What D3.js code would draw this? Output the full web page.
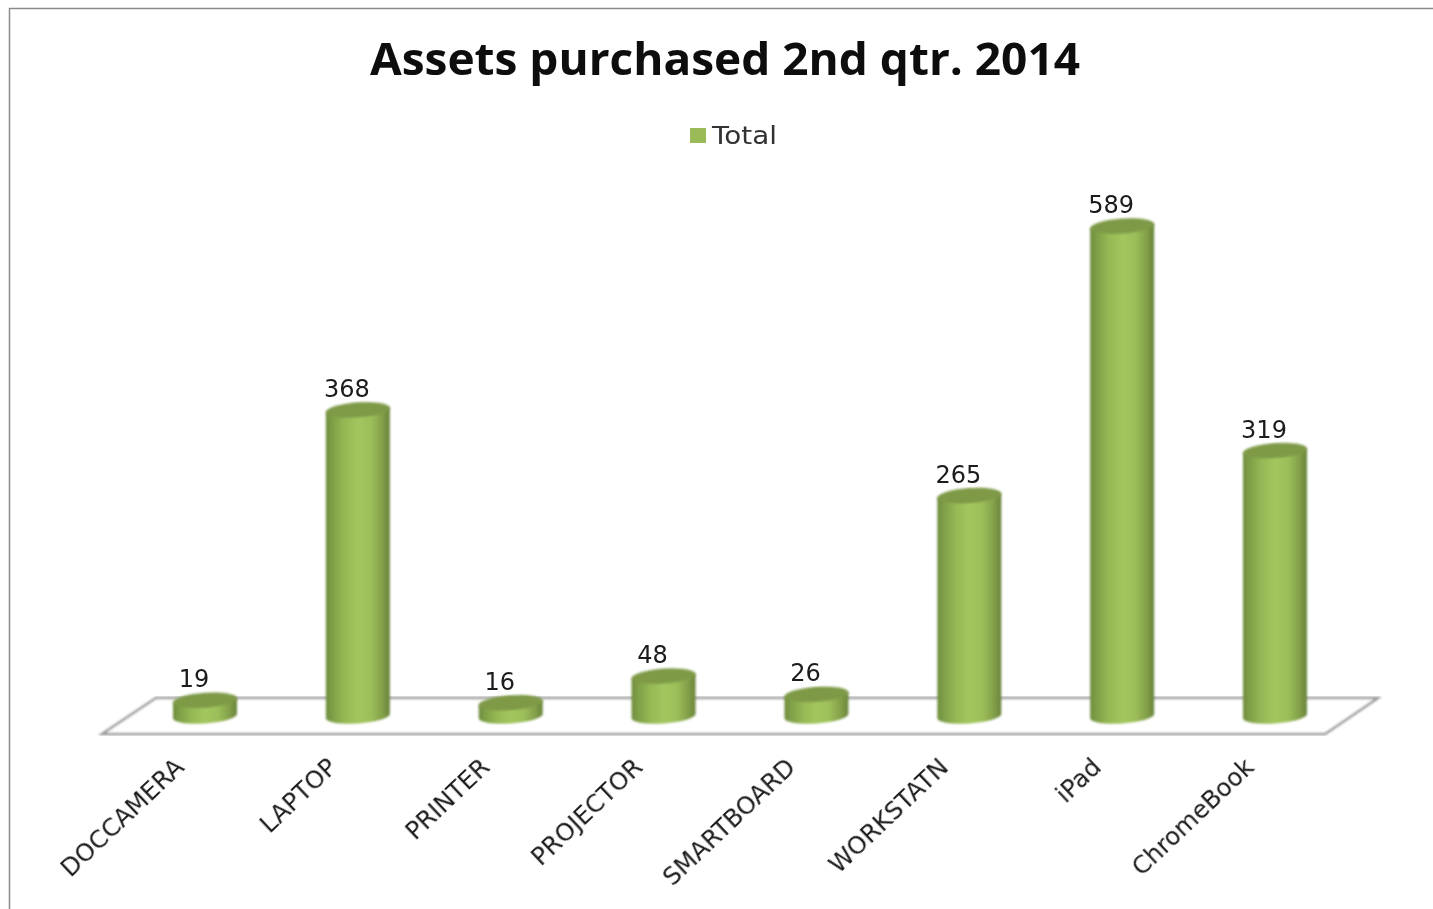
<!DOCTYPE html>
<html><head><meta charset="utf-8">
<script src="https://cdn.jsdelivr.net/npm/d3@7"></script>
<style>html,body{margin:0;padding:0;background:#fff;overflow:hidden}svg{display:block}</style>
</head><body><div id="c"></div>
<script>
const categories=["DOCCAMERA","LAPTOP","PRINTER","PROJECTOR","SMARTBOARD","WORKSTATN","iPad","ChromeBook"];
const totals=[19,368,16,48,26,265,589,319];
const titleText="Assets purchased 2nd qtr. 2014";
const seriesName="Total";

const W=1433,H=909;
const svg=d3.select("#c").append("svg").attr("width",W).attr("height",H);
const defs=svg.append("defs");
const blur=defs.append("filter").attr("id","soft").attr("x","-5%").attr("y","-5%").attr("width","110%").attr("height","110%");
blur.append("feGaussianBlur").attr("stdDeviation",0.9);
const tb=defs.append("filter").attr("id","softText").attr("x","-5%").attr("y","-20%").attr("width","110%").attr("height","140%");
tb.append("feGaussianBlur").attr("stdDeviation",0.45);
const grad=defs.append("linearGradient").attr("id","cyl");
[[0,"#6f8c3e"],[0.1,"#7f9f47"],[0.3,"#97b955"],[0.5,"#a3c65e"],[0.7,"#9dbf5a"],[0.88,"#83a049"],[1,"#68833a"]]
 .forEach(([o,c])=>grad.append("stop").attr("offset",o).attr("stop-color",c));

// frame
svg.append("path").attr("d","M9.5,909V8.5H1433").attr("fill","none").attr("stroke","#8a8a8a").attr("stroke-width",1.5);

// title and legend
svg.append("text").attr("x",370).attr("y",75)
 .attr("font-family","'Open Sans'").attr("font-weight",700).attr("font-size",44).attr("fill","#0a0a0a")
 .attr("textLength",710).attr("lengthAdjust","spacingAndGlyphs").attr("filter","url(#softText)").text(titleText);
svg.append("rect").attr("x",690).attr("y",128).attr("width",16).attr("height",15).attr("fill","#9bbb59");
svg.append("text").attr("x",712).attr("y",144).attr("font-family","'DejaVu Sans'").attr("font-size",25)
 .attr("textLength",65).attr("lengthAdjust","spacingAndGlyphs").attr("fill","#333").attr("filter","url(#softText)").text(seriesName);

// scales
const x=d3.scalePoint().domain(categories).range([205,1275]);
const y=d3.scaleLinear().domain([0,589]).range([716,226]);
const rx=32, ry=7.5, tilt=-4;

// floor
svg.append("path").attr("d","M102,734L156,698H1378L1325,734Z").attr("fill","#fff").attr("stroke","#9a9a9a").attr("stroke-width",2.5).attr("filter","url(#soft)");

// cylinders
const t=Math.tan(tilt*Math.PI/180);
const g=svg.append("g");
const bars=g.selectAll("g").data(totals).join("g").attr("transform",(d,i)=>`translate(${x(categories[i])},0)`);
bars.append("path").attr("fill","url(#cyl)").attr("d",d=>{
  const yt=y(d),yb=y(0);
  const a=`${rx} ${ry} ${tilt}`;
  return `M${-rx},${yt-rx*t}L${-rx},${yb-rx*t}A${a} 0 0 ${rx},${yb+rx*t}L${rx},${yt+rx*t}Z`;
}).attr("filter","url(#soft)");
bars.append("ellipse").attr("cx",0).attr("cy",d=>y(d)).attr("rx",rx).attr("ry",ry)
  .attr("transform",d=>`rotate(${tilt} 0 ${y(d)})`).attr("fill","#7e9a46").attr("filter","url(#soft)");

// data labels
svg.append("g").selectAll("text").data(totals).join("text")
 .attr("x",(d,i)=>x(categories[i])-11).attr("y",d=>y(d)-13).attr("text-anchor","middle")
 .attr("font-family","'DejaVu Sans'").attr("font-size",24).attr("fill","#1a1a1a").attr("filter","url(#softText)").text(d=>d);

// category axis
const ax=svg.append("g").attr("transform","translate(0,750)").call(d3.axisBottom(x).tickSize(0).tickPadding(0));
ax.select(".domain").remove();
ax.selectAll("text").attr("font-family","'DejaVu Sans'").attr("font-size",24.5).attr("fill","#1a1a1a").attr("filter","url(#softText)")
  .attr("text-anchor","end").attr("dy",0).attr("y",0).attr("x",0)
  .attr("transform",d=>`translate(-20,19) rotate(-43.5)`);
</script></body></html>
